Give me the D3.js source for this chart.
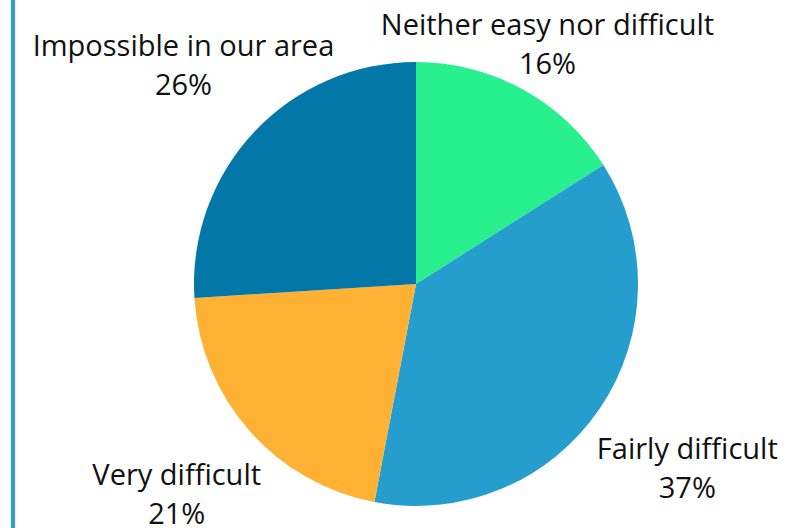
<!DOCTYPE html>
<html>
<head>
<meta charset="utf-8">
<script src="https://cdn.jsdelivr.net/npm/d3@7/dist/d3.min.js"></script>
<style>
  html, body { margin: 0; padding: 0; background: #ffffff; }
  svg { display: block; }
  text { font-family: "Open Sans", sans-serif; fill: #111111; }
</style>
</head>
<body>
<svg id="chart" width="799" height="528"></svg>
<script>
// Survey answers, clockwise from 12 o'clock
const categories = ["Neither easy nor difficult", "Fairly difficult", "Very difficult", "Impossible in our area"];
const shares = [16, 37, 21, 26];
const colors = ["#28f08e", "#269ecd", "#ffb134", "#0377a7"];

const width = 799, height = 528;
const cx = 416, cy = 284, radius = 222;

// distance of each label block's centre from the pie centre
const labelRadius = [273, 328, 319, 319];

const svg = d3.select("#chart");

// accent rule on the left edge
svg.append("rect")
  .attr("x", 11).attr("y", 0)
  .attr("width", 4).attr("height", height)
  .attr("fill", "#2a9fd0");

const data = categories.map((c, i) => ({ name: c, value: shares[i], color: colors[i] }));

const pie = d3.pie().value(d => d.value).sort(null);
const arc = d3.arc().innerRadius(0).outerRadius(radius);
const arcs = pie(data);

const g = svg.append("g").attr("transform", `translate(${cx},${cy})`);

g.selectAll("path")
  .data(arcs)
  .join("path")
  .attr("d", arc)
  .attr("fill", d => d.data.color);

const fontSize = 29, lineGap = 39;

const labels = g.selectAll("g.label")
  .data(arcs)
  .join("g")
  .attr("class", "label")
  .attr("transform", (d, i) => {
    const a = (d.startAngle + d.endAngle) / 2;
    const r = labelRadius[i];
    return `translate(${r * Math.sin(a)},${-r * Math.cos(a)})`;
  });

labels.append("text")
  .attr("text-anchor", "middle")
  .attr("y", -lineGap / 2 + 10)
  .attr("font-size", fontSize)
  .text(d => d.data.name);

labels.append("text")
  .attr("text-anchor", "middle")
  .attr("y", lineGap / 2 + 10)
  .attr("font-size", fontSize)
  .text(d => d.data.value + "%");
</script>
</body>
</html>
